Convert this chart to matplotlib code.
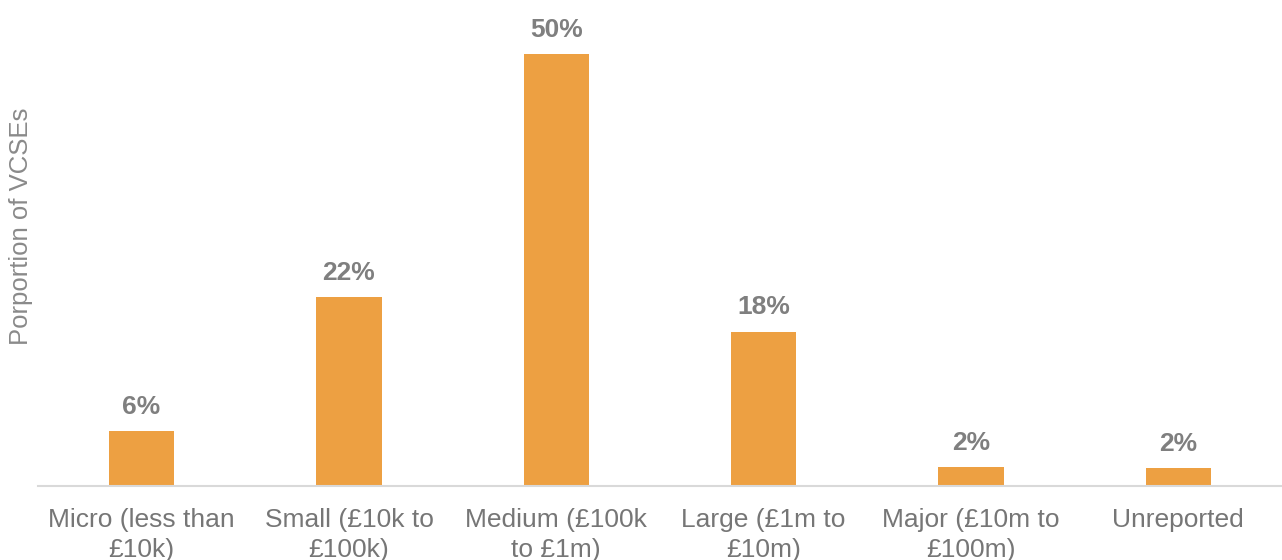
import matplotlib.pyplot as plt

plt.rcParams['font.family'] = ['Liberation Sans', 'DejaVu Sans']

categories = ["Micro (less than\n£10k)", "Small (£10k to\n£100k)", "Medium (£100k\nto £1m)",
              "Large (£1m to\n£10m)", "Major (£10m to\n£100m)", "Unreported"]
values = [6.4, 21.9, 50.0, 17.9, 2.2, 2.1]
labels = ["6%", "22%", "50%", "18%", "2%", "2%"]

fig = plt.figure(figsize=(12.82, 5.6), dpi=100)
ax = fig.add_axes([0.0296, 0.132, 0.9704, 0.848])

x = range(len(categories))
bars = ax.bar(x, values, width=0.315, color='#eda042')

for b, lab in zip(bars, labels):
    ax.text(b.get_x() + b.get_width() / 2, b.get_height() + 1.4, lab,
            ha='center', va='bottom', fontsize=19, fontweight='bold', color='#7f7f7f')

ax.set_xlim(-0.5, 5.5)
ax.set_ylim(0, 55)
ax.set_xticks(list(x))
ax.set_xticklabels(categories, fontsize=19, color='#767676', linespacing=1.3)
ax.tick_params(axis='x', length=0, pad=16)
ax.set_yticks([])
for s in ['top', 'right', 'left']:
    ax.spines[s].set_visible(False)
ax.spines['bottom'].set_color('#d9d9d9')
ax.spines['bottom'].set_linewidth(1.5)

fig.text(0.016, 0.595, "Porportion of VCSEs", rotation=90, ha='center', va='center',
         fontsize=18.5, color='#8a8a8a')

fig.savefig('out.png', dpi=100)
